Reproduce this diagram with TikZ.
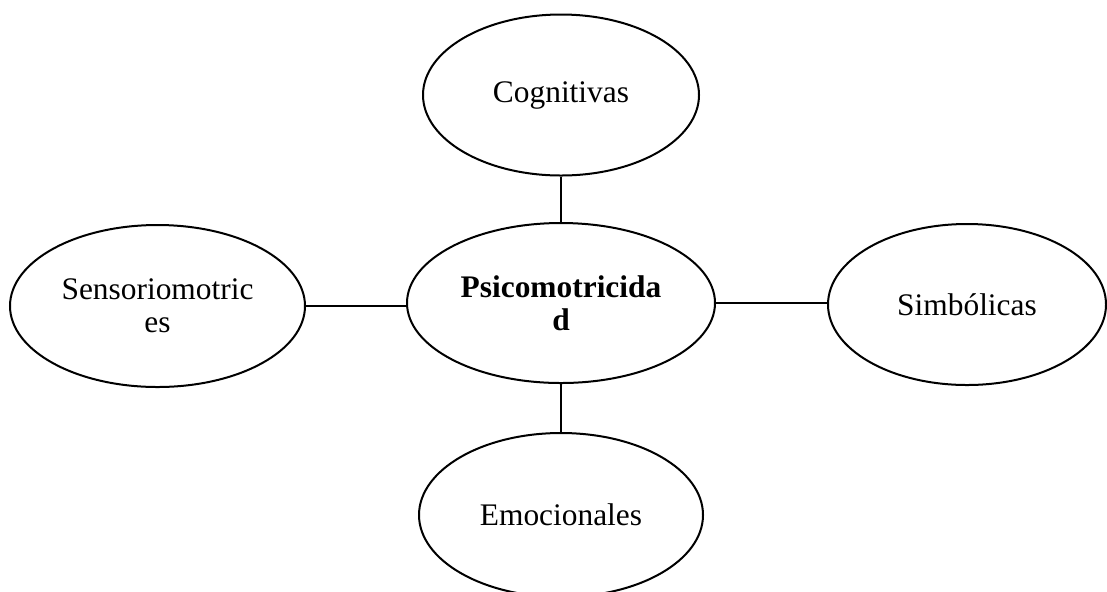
\documentclass[tikz,border=0pt]{standalone}
\usepackage{fontspec}
\setmainfont{Liberation Serif}
\usetikzlibrary{shapes.geometric}

\begin{document}
\begin{tikzpicture}[x=0.5pt,y=-0.5pt,line width=1pt,
  bubble/.style={draw=black,ellipse,inner sep=0pt,align=center,
    font=\fontsize{15.7}{16.5}\selectfont}]
\useasboundingbox (0,0) rectangle (1107,591);
\node [bubble,minimum width=154pt,minimum height=80pt] (psico) at (561,303) {\textbf{Psicomotricida}\\\textbf{d}};
\node [bubble,minimum width=138pt,minimum height=80.5pt] (cogn) at (561,95) {Cognitivas};
\node [bubble,minimum width=147.5pt,minimum height=81pt] (senso) at (157.5,306) {Sensoriomotric\\es};
\node [bubble,minimum width=139pt,minimum height=80.5pt] (simb) at (967,304.5) {Simbólicas};
\node [bubble,minimum width=142pt,minimum height=82pt] (emoc) at (561,515) {Emocionales};
\draw (cogn) -- (psico);
\draw (psico) -- (emoc);
\draw (senso.east) -- (senso.east -| psico.west);
\draw (psico.east) -- (psico.east -| simb.west);
\end{tikzpicture}
\end{document}
